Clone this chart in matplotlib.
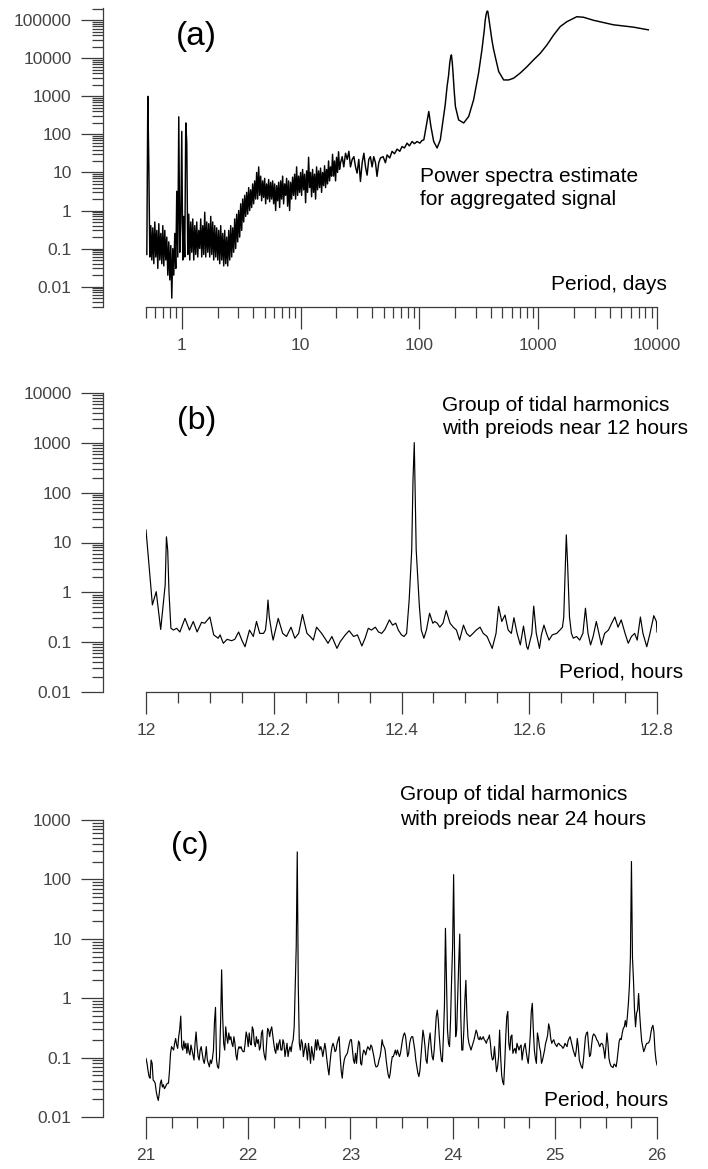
import numpy as np
import matplotlib
matplotlib.use('Agg')
import matplotlib.pyplot as plt
from matplotlib.ticker import LogLocator, FuncFormatter, NullFormatter, MultipleLocator

plt.rcParams['font.family'] = ['Liberation Sans', 'DejaVu Sans']

# -- (a) aggregated signal, power vs period (days)
# dense noisy part, sampled evenly in log(period) between these two periods
a_dense_first, a_dense_last = 0.508, 21.7
a_dense_power = [
    0.07, 1000, 15, 0.06, 0.4, 0.05, 0.35, 0.04, 0.5, 0.06,
    0.3, 0.03, 0.45, 0.05, 0.25, 0.04, 0.4, 0.035, 0.3, 0.05,
    0.2, 0.02, 0.15, 0.015, 0.12, 0.005, 0.1, 0.02, 0.25, 0.03,
    3.2, 0.06, 290, 0.08, 0.5, 120, 0.05, 0.7, 0.06, 200,
    60, 0.07, 0.8, 0.05, 0.5, 0.08, 0.6, 0.05, 0.4, 0.07,
    0.5, 0.06, 0.3, 0.1, 0.6, 0.06, 0.4, 0.07, 0.9, 0.06,
    0.5, 0.08, 0.45, 0.06, 0.7, 0.07, 0.5, 0.05, 0.4, 0.06,
    0.35, 0.05, 0.3, 0.04, 0.4, 0.05, 0.25, 0.035, 0.3, 0.04,
    0.2, 0.035, 0.3, 0.05, 0.4, 0.06, 0.35, 0.08, 0.6, 0.1,
    0.8, 0.15, 1.0, 0.2, 1.5, 0.3, 2.0, 0.5, 2.5, 0.7,
    3.0, 0.8, 4.0, 1.0, 3.5, 1.2, 5.0, 1.5, 6.0, 2.0,
    10, 2.0, 14, 2.5, 8, 1.8, 6, 2.2, 7, 1.5,
    5, 2.0, 6.5, 1.7, 5.5, 2.0, 6, 1.5, 5, 1.0,
    4.5, 1.8, 5.5, 1.2, 6, 2.0, 8, 1.5, 5, 2.5,
    7, 1.3, 6, 1.0, 5.5, 2.0, 7.5, 2.5, 9, 2.0,
    14, 2.5, 8, 3.0, 10, 2.5, 12, 3.5, 9, 1.6,
    11, 3.0, 25, 4.0, 10, 2.3, 12, 3.0, 9, 2.0,
    14, 3.5, 11, 4.0, 13, 3.0, 10, 4.5, 15, 4.0,
    12, 5.0, 20, 6.0, 14, 8.0, 30, 8.0, 20, 6.0,
    25, 10, 35, 12, 18,
]
# long-period part, read point by point
a_tail_period = [
    22.4, 23.1, 23.9, 24.7, 25.5, 26.3, 27.2, 28.1, 29.0, 29.9,
    30.9, 31.9, 33.0, 34.1, 35.2, 36.3, 37.5, 38.7, 40.0, 41.3,
    42.7, 44.0, 45.5, 47.0, 49.5, 51.8, 53.5, 56.3, 58.9, 61.7,
    64.9, 68.4, 71.5, 74.8, 78.8, 82.4, 86.8, 90.8, 95.6, 101,
    105, 109, 114, 120, 125, 132, 141, 150, 160, 165,
    171, 176, 180, 183, 186, 189, 192, 196, 201, 214,
    236, 260, 286, 315, 336, 344, 352, 358, 366, 372,
    377, 383, 390, 398, 408, 420, 435, 465, 512, 564,
    621, 706, 804, 914, 1040, 1183, 1346, 1531, 1742, 1982,
    2113, 2404, 2917, 3540, 4296, 5213, 6327, 8450,
]
a_tail_power = [
    26, 14, 32, 22, 36, 14, 22, 26, 14, 9.6,
    22, 5.8, 18, 32, 14, 8.5, 22, 26, 14, 26,
    18, 7.9, 18, 24, 26, 18, 29, 24, 36, 31,
    41, 36, 48, 44, 59, 50, 65, 57, 65, 59,
    69, 72, 162, 400, 162, 65, 44, 72, 296, 600,
    1820, 3500, 7400, 10500, 12300, 8000, 4100, 1500, 540, 240,
    200, 296, 810, 4100, 16600, 30000, 56000, 100000, 150000, 175000,
    170000, 120000, 83000, 50000, 30000, 18000, 11000, 4500, 2700, 2700,
    3000, 4100, 6000, 9100, 13500, 22300, 40600, 68000, 91500, 112000,
    124000, 120000, 100000, 87000, 76000, 71000, 66000, 56000,
]

# -- (b) tidal group near 12 hours
b_period = [
    12.000, 12.004, 12.010, 12.016, 12.023, 12.030, 12.032, 12.034, 12.036, 12.039,
    12.043, 12.048, 12.053, 12.061, 12.068, 12.074, 12.080, 12.087, 12.092, 12.100,
    12.106, 12.113, 12.116, 12.121, 12.127, 12.134, 12.139, 12.145, 12.150, 12.155,
    12.162, 12.168, 12.173, 12.178, 12.184, 12.187, 12.189, 12.191, 12.193, 12.197,
    12.199, 12.207, 12.214, 12.220, 12.227, 12.233, 12.239, 12.245, 12.252, 12.257,
    12.262, 12.267, 12.275, 12.280, 12.285, 12.291, 12.299, 12.304, 12.312, 12.318,
    12.325, 12.331, 12.338, 12.343, 12.348, 12.353, 12.359, 12.364, 12.369, 12.374,
    12.381, 12.386, 12.391, 12.395, 12.400, 12.404, 12.408, 12.412, 12.416, 12.418,
    12.420, 12.421, 12.423, 12.428, 12.431, 12.435, 12.439, 12.444, 12.449, 12.452,
    12.456, 12.460, 12.465, 12.470, 12.476, 12.481, 12.486, 12.491, 12.497, 12.502,
    12.507, 12.512, 12.517, 12.523, 12.528, 12.534, 12.542, 12.548, 12.552, 12.557,
    12.562, 12.567, 12.572, 12.576, 12.581, 12.586, 12.591, 12.596, 12.598, 12.604,
    12.607, 12.611, 12.616, 12.619, 12.623, 12.627, 12.631, 12.636, 12.643, 12.648,
    12.652, 12.654, 12.657, 12.658, 12.660, 12.663, 12.666, 12.669, 12.674, 12.679,
    12.684, 12.688, 12.692, 12.696, 12.700, 12.705, 12.709, 12.713, 12.718, 12.724,
    12.729, 12.734, 12.739, 12.744, 12.750, 12.755, 12.760, 12.765, 12.769, 12.774,
    12.778, 12.784, 12.789, 12.795, 12.799, 12.800,
]
b_power = [
    17.9, 4.5, 0.56, 1.03, 0.18, 1.4, 13, 7, 1.0, 0.19,
    0.175, 0.19, 0.16, 0.30, 0.175, 0.26, 0.16, 0.25, 0.24, 0.32,
    0.14, 0.12, 0.14, 0.095, 0.114, 0.107, 0.114, 0.16, 0.11, 0.081,
    0.175, 0.13, 0.26, 0.15, 0.15, 0.175, 0.3, 0.70, 0.32, 0.15,
    0.11, 0.30, 0.15, 0.13, 0.20, 0.12, 0.15, 0.36, 0.15, 0.13,
    0.11, 0.20, 0.15, 0.12, 0.095, 0.13, 0.075, 0.102, 0.14, 0.17,
    0.13, 0.14, 0.084, 0.12, 0.19, 0.175, 0.20, 0.16, 0.15, 0.18,
    0.28, 0.22, 0.24, 0.175, 0.14, 0.13, 0.15, 0.70, 7.1, 180,
    1010, 180, 7.1, 0.52, 0.175, 0.12, 0.175, 0.38, 0.24, 0.26,
    0.24, 0.20, 0.24, 0.43, 0.24, 0.20, 0.175, 0.11, 0.22, 0.15,
    0.13, 0.15, 0.175, 0.20, 0.15, 0.13, 0.075, 0.15, 0.52, 0.26,
    0.35, 0.175, 0.15, 0.31, 0.15, 0.088, 0.21, 0.081, 0.072, 0.15,
    0.53, 0.15, 0.075, 0.14, 0.22, 0.15, 0.11, 0.14, 0.15, 0.175,
    0.20, 0.32, 5.2, 14.2, 3.8, 0.32, 0.15, 0.12, 0.13, 0.11,
    0.15, 0.48, 0.15, 0.088, 0.13, 0.26, 0.15, 0.088, 0.15, 0.175,
    0.24, 0.32, 0.20, 0.28, 0.15, 0.095, 0.13, 0.15, 0.11, 0.32,
    0.15, 0.081, 0.15, 0.34, 0.26, 0.16,
]

# -- (c) tidal group near 24 hours, one value every 0.01 h from 21 h
c_first, c_step = 21.0, 0.01
c_power = [
    0.097, 0.080, 0.06, 0.048, 0.045, 0.091, 0.080, 0.042, 0.04, 0.037,
    0.027, 0.022, 0.019, 0.025, 0.037, 0.042, 0.032, 0.035, 0.030, 0.032,
    0.035, 0.037, 0.037, 0.06, 0.118, 0.153, 0.143, 0.134, 0.174, 0.21,
    0.163, 0.143, 0.225, 0.3, 0.5, 0.153, 0.134, 0.19, 0.143, 0.174,
    0.118, 0.174, 0.126, 0.111, 0.163, 0.134, 0.111, 0.091, 0.174, 0.27,
    0.153, 0.104, 0.091, 0.134, 0.153, 0.118, 0.091, 0.080, 0.104, 0.153,
    0.091, 0.080, 0.070, 0.091, 0.080, 0.097, 0.134, 0.4, 0.7, 0.091,
    0.070, 0.066, 0.104, 0.4, 3.0, 0.5, 0.174, 0.134, 0.33, 0.225,
    0.174, 0.26, 0.20, 0.225, 0.174, 0.153, 0.225, 0.174, 0.111, 0.091,
    0.134, 0.153, 0.143, 0.153, 0.134, 0.126, 0.126, 0.174, 0.27, 0.225,
    0.153, 0.26, 0.174, 0.163, 0.33, 0.29, 0.174, 0.153, 0.225, 0.174,
    0.20, 0.134, 0.153, 0.26, 0.29, 0.134, 0.104, 0.091, 0.174, 0.31,
    0.29, 0.225, 0.29, 0.33, 0.24, 0.174, 0.134, 0.118, 0.174, 0.134,
    0.174, 0.20, 0.134, 0.134, 0.20, 0.174, 0.104, 0.134, 0.174, 0.104,
    0.134, 0.153, 0.126, 0.174, 0.20, 0.33, 1.6, 7.4, 290, 1.6,
    0.174, 0.134, 0.20, 0.174, 0.104, 0.134, 0.174, 0.134, 0.091, 0.174,
    0.126, 0.080, 0.153, 0.118, 0.091, 0.134, 0.20, 0.134,
    0.20, 0.163, 0.134, 0.153, 0.134, 0.104, 0.134, 0.174, 0.134, 0.091,
    0.066, 0.051, 0.080, 0.118, 0.153, 0.174, 0.153, 0.126, 0.134, 0.174,
    0.20, 0.225, 0.104, 0.06, 0.045, 0.070, 0.091, 0.104, 0.111, 0.118,
    0.143, 0.174, 0.20, 0.20, 0.134, 0.091, 0.080, 0.118, 0.080, 0.134,
    0.19, 0.174, 0.080, 0.075, 0.111, 0.134, 0.126, 0.111, 0.134, 0.153,
    0.143, 0.134, 0.163, 0.153, 0.126, 0.104, 0.080, 0.070, 0.070, 0.075,
    0.091, 0.104, 0.134, 0.20, 0.163, 0.153, 0.134, 0.091, 0.066, 0.051,
    0.045, 0.055, 0.080, 0.104, 0.104, 0.118, 0.134, 0.111, 0.134, 0.118,
    0.104, 0.118, 0.153, 0.20, 0.24, 0.26, 0.225, 0.153, 0.104, 0.118,
    0.174, 0.21, 0.225, 0.225, 0.174, 0.134, 0.091, 0.070, 0.055, 0.048,
    0.06, 0.104, 0.174, 0.29, 0.225, 0.153, 0.091, 0.080, 0.134, 0.20,
    0.26, 0.153, 0.104, 0.091, 0.134, 0.26, 0.49, 0.63, 0.43, 0.225,
    0.134, 0.091, 0.085, 0.225, 0.72, 15, 2.3, 0.29, 0.174, 0.153,
    0.43, 2.0, 7.4, 120, 3.9, 0.225, 0.29, 1.07, 3.9, 12,
    0.49, 0.134, 0.134, 0.29, 0.93, 2.0, 0.49, 0.225, 0.174, 0.153,
    0.134, 0.153, 0.174, 0.20, 0.24, 0.29, 0.26, 0.21, 0.20,
    0.225, 0.20, 0.21, 0.225, 0.20, 0.19, 0.174, 0.20, 0.21, 0.24,
    0.174, 0.111, 0.091, 0.097, 0.153, 0.091, 0.058, 0.070, 0.104, 0.29,
    0.104, 0.051, 0.039, 0.035, 0.080, 0.225, 0.49, 0.6, 0.174, 0.134,
    0.225, 0.24, 0.118, 0.134, 0.143, 0.118, 0.174, 0.153, 0.134, 0.153,
    0.163, 0.091, 0.126, 0.153, 0.174, 0.126, 0.097, 0.080, 0.126, 0.24,
    0.6, 0.82, 0.29, 0.134, 0.097, 0.080, 0.26, 0.21, 0.153, 0.126,
    0.080, 0.091, 0.111, 0.134, 0.174, 0.20, 0.24, 0.37, 0.31, 0.21,
    0.174, 0.19, 0.20, 0.174, 0.163, 0.153, 0.17, 0.174, 0.163, 0.16,
    0.153, 0.143, 0.153, 0.174, 0.163, 0.153, 0.19, 0.21, 0.225, 0.19,
    0.163, 0.134, 0.118, 0.104, 0.134, 0.21, 0.153, 0.091, 0.080, 0.070,
    0.066, 0.091, 0.143, 0.225, 0.26, 0.27, 0.163, 0.104, 0.111, 0.163,
    0.225, 0.25, 0.24, 0.225, 0.20, 0.19, 0.17, 0.153, 0.17, 0.174,
    0.163, 0.134, 0.097, 0.153, 0.26, 0.174, 0.097, 0.080, 0.072, 0.070,
    0.068, 0.078, 0.075, 0.070, 0.091, 0.134, 0.19, 0.21, 0.20, 0.26,
    0.31, 0.33, 0.42, 0.33, 0.49, 0.82, 1.6, 5.0, 200, 4.8,
    2.0, 0.63, 0.33, 0.56, 0.63, 1.2, 0.56, 0.31, 0.19, 0.153,
    0.126, 0.14, 0.16, 0.174, 0.174, 0.18, 0.20, 0.26, 0.32, 0.35,
    0.27, 0.134, 0.091, 0.075,
]

# -- Look
AXIS_COLOR = '#3c3c3c'
LABEL_COLOR = '#444444'
W, H = 708, 1169


def px_box(left, top, right, bottom):
    # -- pixel box of the reference image -> figure fraction rect
    return [left / W, 1 - bottom / H, (right - left) / W, (bottom - top) / H]


def fig_text(fig, x, y, s, **kw):
    fig.text(x / W, 1 - y / H, s, **kw)


def style_axes(ax):
    for side in ('top', 'right'):
        ax.spines[side].set_visible(False)
    ax.spines['left'].set_position(('outward', 31))
    for side in ('left', 'bottom'):
        ax.spines[side].set_color(AXIS_COLOR)
        ax.spines[side].set_linewidth(0.9)
    ax.tick_params(which='major', direction='out', length=15.5, width=0.9,
                   color=AXIS_COLOR, labelsize=12.5, labelcolor=LABEL_COLOR)
    ax.tick_params(which='minor', direction='out', length=7.9, width=0.9, color=AXIS_COLOR)
    ax.tick_params(axis='y', which='major', pad=7)
    ax.tick_params(axis='x', which='major', pad=7)
    ax.set_yscale('log')
    ax.yaxis.set_major_locator(LogLocator(base=10, numticks=20))
    ax.yaxis.set_minor_locator(LogLocator(base=10, subs=np.arange(2, 10), numticks=20))
    ax.yaxis.set_major_formatter(FuncFormatter(lambda v, _: f'{v:g}'))
    ax.yaxis.set_minor_formatter(NullFormatter())
    ax.patch.set_alpha(0)


fig = plt.figure(figsize=(W / 100, H / 100), dpi=100)

# -- (a)
ax_a = fig.add_axes(px_box(146, 8, 657, 306.5))
style_axes(ax_a)
a_period = np.concatenate([np.geomspace(a_dense_first, a_dense_last, len(a_dense_power)), a_tail_period])
a_power = np.concatenate([a_dense_power, a_tail_power])
ax_a.plot(a_period, a_power, color='black', lw=1.05)
ax_a.set_xscale('log')
ax_a.set_xlim(0.5, 10000)
ax_a.set_ylim(0.003, 2.1e5)
ax_a.xaxis.set_major_locator(LogLocator(base=10, numticks=20))
ax_a.xaxis.set_minor_locator(LogLocator(base=10, subs=np.arange(2, 10), numticks=20))
ax_a.xaxis.set_major_formatter(FuncFormatter(lambda v, _: f'{v:g}'))
ax_a.xaxis.set_minor_formatter(NullFormatter())

# -- (b)
ax_b = fig.add_axes(px_box(146, 393, 657, 692))
style_axes(ax_b)
ax_b.plot(b_period, b_power, color='black', lw=0.85)
ax_b.set_xlim(12, 12.8)
ax_b.set_ylim(0.01, 1e4)
ax_b.xaxis.set_major_locator(MultipleLocator(0.2))
ax_b.xaxis.set_minor_locator(MultipleLocator(0.05))
ax_b.xaxis.set_major_formatter(FuncFormatter(lambda v, _: f'{v:g}'))

# -- (c)
ax_c = fig.add_axes(px_box(146, 820, 657, 1117))
style_axes(ax_c)
c_period = c_first + c_step * np.arange(len(c_power))
ax_c.plot(c_period, c_power, color='black', lw=0.85)
ax_c.set_xlim(21, 26)
ax_c.set_ylim(0.01, 1000)
ax_c.xaxis.set_major_locator(MultipleLocator(1))
ax_c.xaxis.set_minor_locator(MultipleLocator(0.25))
ax_c.xaxis.set_major_formatter(FuncFormatter(lambda v, _: f'{v:g}'))

# -- Panel letters and notes
fig_text(fig, 196, 36, '(a)', fontsize=24, ha='center', va='center')
fig_text(fig, 197, 421, '(b)', fontsize=23, ha='center', va='center')
fig_text(fig, 190, 846, '(c)', fontsize=23, ha='center', va='center')

fig_text(fig, 420, 182, 'Power spectra estimate', fontsize=15, va='baseline')
fig_text(fig, 420, 205, 'for aggregated signal', fontsize=15, va='baseline')
fig_text(fig, 667, 290, 'Period, days', fontsize=15, ha='right', va='baseline')

fig_text(fig, 442, 411, 'Group of tidal harmonics', fontsize=15, va='baseline')
fig_text(fig, 442, 434, 'with preiods near 12 hours', fontsize=15, va='baseline')
fig_text(fig, 683, 677, 'Period, hours', fontsize=15, ha='right', va='baseline')

fig_text(fig, 400, 800, 'Group of tidal harmonics', fontsize=15, va='baseline')
fig_text(fig, 400, 825, 'with preiods near 24 hours', fontsize=15, va='baseline')
fig_text(fig, 668, 1106, 'Period, hours', fontsize=15, ha='right', va='baseline')

fig.savefig('out.png', dpi=100, facecolor='white')
